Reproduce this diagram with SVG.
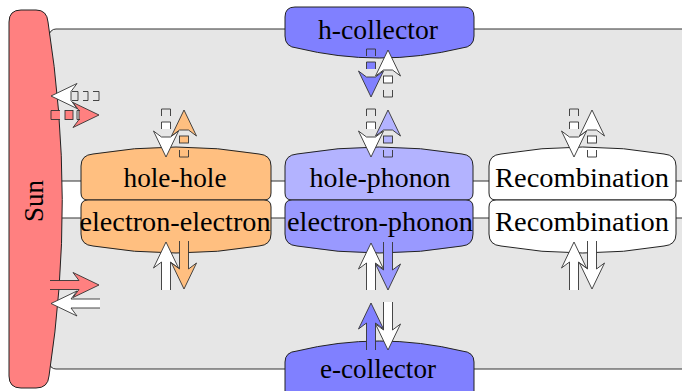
<svg xmlns="http://www.w3.org/2000/svg" width="682" height="391" viewBox="0 0 682 391">
<style>
.bg{fill:#e6e6e6;stroke:#333;stroke-width:1}
.n{stroke:#222;stroke-width:1}
.t{font-family:"Liberation Serif","DejaVu Serif",serif;font-size:27px;text-anchor:middle;fill:#000}
.o{fill:none;stroke:#333;stroke-width:0.9;stroke-linejoin:miter}
.f{stroke:none}
.h{stroke:#333;stroke-width:0.9;stroke-linejoin:miter}
.w{fill:#fff}
.or{fill:#ffbf80}
.b1{fill:#8080ff}
.b2{fill:#b3b3ff}
.b3{fill:#9999ff}
.rd{fill:#ff8080}
</style>
<rect class="bg" x="49" y="29" width="660" height="152" rx="7"/>
<rect class="bg" x="49" y="218" width="660" height="151" rx="7"/>
<g id="sun">
<path class="n rd" d="M9,22 Q9,10 21,10 L36,10 Q47,10 48,22 Q76,200 49,376 Q48,388 36,388 L21,388 Q9,388 9,376 Z"/>
<text class="t" transform="translate(43,201) rotate(-90)">Sun</text>
</g>
<g id="h-collector">
<path class="n b1" d="M285,17 Q285,7 295,7 L464,7 Q474,7 474,17 L474,36 Q474,47 462,48 Q379,68 297,48 Q285,47 285,36 Z"/>
<text class="t" x="378" y="39" textLength="120" lengthAdjust="spacingAndGlyphs">h-collector</text>
</g>
<g id="e-collector">
<path class="n b1" d="M285,400 L285,362 Q285,352 297,351 Q379,331 462,351 Q474,352 474,362 L474,400 Z"/>
<text class="t" x="378" y="378" textLength="116" lengthAdjust="spacingAndGlyphs">e-collector</text>
</g>
<g id="hole-hole">
<path class="n or" d="M81,193 L81,166 Q81,155 93,154 Q176,140 259,154 Q271,155 271,166 L271,193 Q271,200 264,200 L88,200 Q81,200 81,193 Z"/>
<text class="t" x="175" y="187" textLength="103" lengthAdjust="spacingAndGlyphs">hole-hole</text>
</g>
<g id="electron-electron">
<path class="n or" d="M81,207 Q81,200 88,200 L264,200 Q271,200 271,207 L271,234 Q271,245 259,246 Q176,260 93,246 Q81,245 81,234 Z"/>
<text class="t" x="175" y="231" textLength="191" lengthAdjust="spacingAndGlyphs">electron-electron</text>
</g>
<g id="hole-phonon">
<path class="n b2" d="M285,193 L285,166 Q285,155 297,154 Q379,140 462,154 Q473,155 473,166 L473,193 Q473,200 466,200 L292,200 Q285,200 285,193 Z"/>
<text class="t" x="380" y="187" textLength="141" lengthAdjust="spacingAndGlyphs">hole-phonon</text>
</g>
<g id="electron-phonon">
<path class="n b3" d="M285,207 Q285,200 292,200 L466,200 Q473,200 473,207 L473,234 Q473,245 462,246 Q379,260 297,246 Q285,245 285,234 Z"/>
<text class="t" x="380" y="231" textLength="186" lengthAdjust="spacingAndGlyphs">electron-phonon</text>
</g>
<g id="recombination-h">
<path class="n w" d="M489,193 L489,166 Q489,155 501,154 Q583,140 664,154 Q676,155 676,166 L676,193 Q676,200 669,200 L496,200 Q489,200 489,193 Z"/>
<text class="t" x="582" y="187" textLength="174" lengthAdjust="spacingAndGlyphs">Recombination</text>
</g>
<g id="recombination-e">
<path class="n w" d="M489,207 Q489,200 496,200 L669,200 Q676,200 676,207 L676,234 Q676,245 664,246 Q583,260 501,246 Q489,245 489,234 Z"/>
<text class="t" x="582" y="231" textLength="174" lengthAdjust="spacingAndGlyphs">Recombination</text>
</g>
<g id="connectors">
<!-- Sun top-left: white left, red right (broken shafts) -->
<path class="h w" d="M51,96 L77,83.5 L71,91.5 L71,100.5 L77,108.5 Z"/>
<path class="o" d="M72,91.5 H78 V100.5 H72 M83,91.5 H88 V100.5 H83 M93,91.5 H99 V100.5 H93"/>
<path class="h rd" d="M60,110.5 H51 V119.5 H60"/>
<rect class="h rd" x="65" y="110.5" width="8" height="9"/>
<path class="h rd" d="M99,115 L73,102.5 L79,110.5 L79,119.5 L73,127.5 Z"/>
<path class="o" d="M80,110.5 H77 V119.5 H80"/>
<!-- Sun bottom-left -->
<path class="f rd" d="M99,285 L73,272.5 L79,280.5 L50,280.5 L50,289.5 L79,289.5 L73,297.5 Z"/>
<path class="o" d="M50,280.5 L79,280.5 L73,272.5 L99,285 L73,297.5 L79,289.5 L50,289.5"/>
<path class="f w" d="M51,303.5 L77,291 L71,299 L100,299 L100,308 L71,308 L77,316 Z"/>
<path class="o" d="M100,299 L71,299 L77,291 L51,303.5 L77,316 L71,308 L100,308"/>
<!-- upper cluster: hole-hole (Y0=108) -->
<path class="o" d="M161.5,116 V109 H170.5 V116"/>
<path class="h w" d="M161.5,129 V122 H170.5 V129"/>
<path class="h w" d="M166,157 L153.5,131 L161.5,137 L170.5,137 L178.5,131 Z"/>
<path class="h or" d="M184,110 L196.5,136 L188.5,130 L179.5,130 L171.5,136 Z"/>
<rect class="h or" x="179.5" y="136" width="9" height="7"/>
<path class="o" d="M179.5,150 V157 H188.5 V150"/>
<!-- upper cluster: hole-phonon (Y0=108) -->
<path class="o" d="M366.5,116 V109 H375.5 V116"/>
<path class="h w" d="M366.5,129 V122 H375.5 V129"/>
<path class="h b2" d="M388,110 L400.5,136 L392.5,130 L383.5,130 L375.5,136 Z"/>
<rect class="h b2" x="383.5" y="136" width="9" height="7"/>
<path class="o" d="M383.5,150 V157 H392.5 V150"/>
<path class="h w" d="M371,157 L358.5,131 L366.5,137 L375.5,137 L383.5,131 Z"/>
<!-- upper cluster: h-collector (Y0=48) -->
<path class="o" d="M366.5,56 V49 H375.5 V56"/>
<path class="h b1" d="M366.5,69 V62 H375.5 V69"/>
<path class="h b1" d="M371,97 L358.5,71 L366.5,77 L375.5,77 L383.5,71 Z"/>
<path class="h w" d="M388,50 L400.5,76 L392.5,70 L383.5,70 L375.5,76 Z"/>
<rect class="h w" x="383.5" y="76" width="9" height="7"/>
<path class="o" d="M383.5,90 V97 H392.5 V90"/>
<!-- upper cluster: recombination (Y0=108) -->
<path class="o" d="M569.5,116 V109 H578.5 V116"/>
<path class="h w" d="M569.5,129 V122 H578.5 V129"/>
<path class="h w" d="M574,157 L561.5,131 L569.5,137 L578.5,137 L586.5,131 Z"/>
<path class="h w" d="M592,110 L604.5,136 L596.5,130 L587.5,130 L579.5,136 Z"/>
<rect class="h w" x="587.5" y="136" width="9" height="7"/>
<path class="o" d="M587.5,150 V157 H596.5 V150"/>
<!-- lower cluster: electron-electron -->
<path class="f w" d="M166,242 L178.5,268 L170.5,262 L170.5,290 L161.5,290 L161.5,262 L153.5,268 Z"/>
<path class="o" d="M161.5,290 L161.5,262 L153.5,268 L166,242 L178.5,268 L170.5,262 L170.5,290"/>
<path class="f or" d="M184,289 L171.5,263 L179.5,269 L179.5,241 L188.5,241 L188.5,269 L196.5,263 Z"/>
<path class="o" d="M179.5,241 L179.5,269 L171.5,263 L184,289 L196.5,263 L188.5,269 L188.5,241"/>
<!-- lower cluster: electron-phonon -->
<path class="f w" d="M371,243 L383.5,269 L375.5,263 L375.5,290 L366.5,290 L366.5,263 L358.5,269 Z"/>
<path class="o" d="M366.5,290 L366.5,263 L358.5,269 L371,243 L383.5,269 L375.5,263 L375.5,290"/>
<path class="f b3" d="M388,290 L375.5,264 L383.5,270 L383.5,242 L392.5,242 L392.5,270 L400.5,264 Z"/>
<path class="o" d="M383.5,242 L383.5,270 L375.5,264 L388,290 L400.5,264 L392.5,270 L392.5,242"/>
<!-- lower cluster: e-collector -->
<path class="f b1" d="M371,303 L383.5,329 L375.5,323 L375.5,350 L366.5,350 L366.5,323 L358.5,329 Z"/>
<path class="o" d="M366.5,350 L366.5,323 L358.5,329 L371,303 L383.5,329 L375.5,323 L375.5,350"/>
<path class="f w" d="M388,350 L375.5,324 L383.5,330 L383.5,302 L392.5,302 L392.5,330 L400.5,324 Z"/>
<path class="o" d="M383.5,302 L383.5,330 L375.5,324 L388,350 L400.5,324 L392.5,330 L392.5,302"/>
<!-- lower cluster: recombination -->
<path class="f w" d="M574,242 L586.5,268 L578.5,262 L578.5,290 L569.5,290 L569.5,262 L561.5,268 Z"/>
<path class="o" d="M569.5,290 L569.5,262 L561.5,268 L574,242 L586.5,268 L578.5,262 L578.5,290"/>
<path class="f w" d="M592,289 L579.5,263 L587.5,269 L587.5,241 L596.5,241 L596.5,269 L604.5,263 Z"/>
<path class="o" d="M587.5,241 L587.5,269 L579.5,263 L592,289 L604.5,263 L596.5,269 L596.5,241"/>
</g>
</svg>
